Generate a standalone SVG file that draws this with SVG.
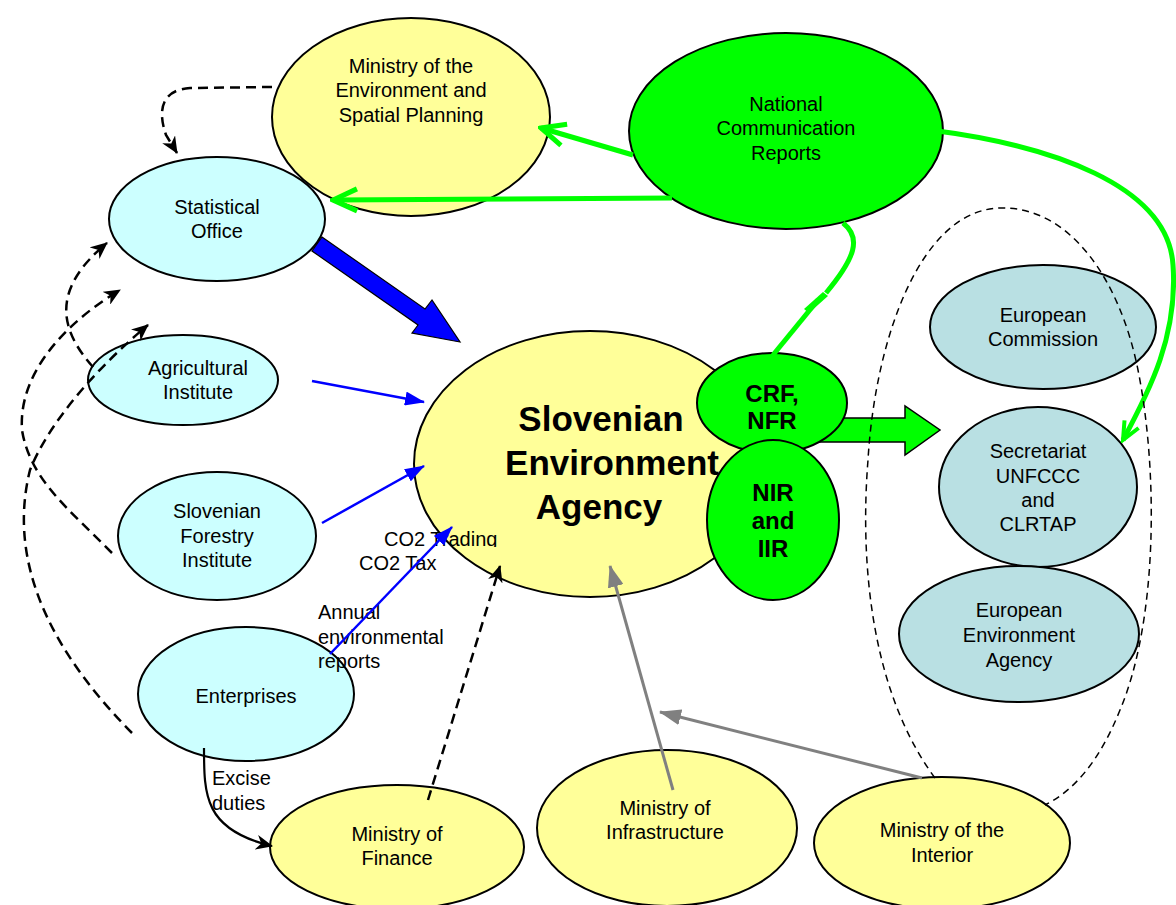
<svg xmlns="http://www.w3.org/2000/svg" width="1176" height="905" viewBox="0 0 1176 905">
<style>
.n{stroke:#000;stroke-width:2}
.y{fill:#FFFF99}
.c{fill:#CCFFFF}
.g{fill:#00FF00}
.t{fill:#B9E0E3}
text{font-family:"Liberation Sans",Arial,sans-serif;font-size:20px;fill:#000}
.m{text-anchor:middle}
.b{font-weight:bold}
.big{font-size:35px}
.mid{font-size:24px}
.gl{fill:none;stroke:#00FF00;stroke-width:5}
.bl{fill:none;stroke:#0000FF;stroke-width:2.5}
.gr{fill:none;stroke:#808080;stroke-width:3}
.d{fill:none;stroke:#000;stroke-width:2.5;stroke-dasharray:10 6}
.dl{fill:none;stroke:#000;stroke-width:1.5;stroke-dasharray:7 5}
</style>
<defs>
<marker id="ga" markerUnits="userSpaceOnUse" viewBox="0 0 30 28" markerWidth="30" markerHeight="28" refX="27" refY="14" orient="auto">
<path d="M3,3 L27,14 L3,25" fill="none" stroke="#00FF00" stroke-width="5"/>
</marker>
<marker id="gs" markerUnits="userSpaceOnUse" viewBox="0 0 24 22" markerWidth="24" markerHeight="22" refX="21" refY="11" orient="auto">
<path d="M3,3 L21,11 L3,19" fill="none" stroke="#00FF00" stroke-width="4"/>
</marker>
<marker id="ba" markerUnits="userSpaceOnUse" viewBox="0 0 20 14" markerWidth="20" markerHeight="14" refX="19" refY="7" orient="auto">
<path d="M0,0 L20,7 L0,14 z" fill="#0000FF"/>
</marker>
<marker id="gra" markerUnits="userSpaceOnUse" viewBox="0 0 22 16" markerWidth="22" markerHeight="16" refX="21" refY="8" orient="auto">
<path d="M0,0 L22,8 L0,16 z" fill="#808080"/>
</marker>
<marker id="ka" markerUnits="userSpaceOnUse" viewBox="0 0 17 15" markerWidth="17" markerHeight="15" refX="16" refY="7.5" orient="auto">
<path d="M0,0 L17,7.5 L0,15 L5,7.5 z" fill="#000"/>
</marker>
<clipPath id="clipTr"><rect x="380" y="520" width="140" height="27"/></clipPath>
</defs>
<rect width="1176" height="905" fill="#fff"/>

<g id="ministry-environment">
<ellipse class="n y" cx="411" cy="117" rx="139" ry="99"/>
<text class="m" x="411" y="73">Ministry of the</text>
<text class="m" x="411" y="97">Environment and</text>
<text class="m" x="411" y="122">Spatial Planning</text>
</g>
<g id="statistical-office">
<ellipse class="n c" cx="217" cy="219" rx="108" ry="62"/>
<text class="m" x="217" y="214">Statistical</text>
<text class="m" x="217" y="238">Office</text>
</g>
<g id="national-communication">
<ellipse class="n g" cx="786" cy="131" rx="157" ry="98"/>
<text class="m" x="786" y="111">National</text>
<text class="m" x="786" y="135">Communication</text>
<text class="m" x="786" y="160">Reports</text>
</g>
<g id="agency">
<ellipse class="n y" cx="590" cy="464" rx="176" ry="133"/>
<text class="m b big" x="601" y="431">Slovenian</text>
<text class="m b big" x="612" y="475">Environment</text>
<text class="m b big" x="599" y="519">Agency</text>
</g>
<g id="green-block-arrow">
<polygon points="815,418 905,418 905,406 940,430 905,455 905,442 815,442" fill="#00FF00" stroke="#000" stroke-width="1.5"/>
</g>
<g id="crf-nfr">
<ellipse class="n g" cx="772" cy="403" rx="75" ry="50"/>
<text class="m b mid" x="772" y="402">CRF,</text>
<text class="m b mid" x="772" y="429">NFR</text>
</g>
<g id="nir-iir">
<ellipse class="n g" cx="773" cy="520" rx="66" ry="80"/>
<text class="m b mid" x="773" y="501">NIR</text>
<text class="m b mid" x="773" y="529">and</text>
<text class="m b mid" x="773" y="557">IIR</text>
</g>
<g id="european-commission">
<ellipse class="n t" cx="1043" cy="327" rx="113" ry="62"/>
<text class="m" x="1043" y="322">European</text>
<text class="m" x="1043" y="346">Commission</text>
</g>
<g id="secretariat">
<ellipse class="n t" cx="1038" cy="487" rx="99" ry="80"/>
<text class="m" x="1038" y="458">Secretariat</text>
<text class="m" x="1038" y="483">UNFCCC</text>
<text class="m" x="1038" y="507">and</text>
<text class="m" x="1038" y="531">CLRTAP</text>
</g>
<g id="european-environment-agency">
<ellipse class="n t" cx="1019" cy="634" rx="120" ry="68"/>
<text class="m" x="1019" y="617">European</text>
<text class="m" x="1019" y="642">Environment</text>
<text class="m" x="1019" y="667">Agency</text>
</g>
<g id="agricultural-institute">
<ellipse class="n c" cx="183" cy="380" rx="95" ry="45"/>
<text class="m" x="198" y="375">Agricultural</text>
<text class="m" x="198" y="399">Institute</text>
</g>
<g id="forestry-institute">
<ellipse class="n c" cx="217" cy="536" rx="99" ry="64"/>
<text class="m" x="217" y="518">Slovenian</text>
<text class="m" x="217" y="543">Forestry</text>
<text class="m" x="217" y="567">Institute</text>
</g>
<g id="enterprises">
<ellipse class="n c" cx="246" cy="694" rx="108" ry="67"/>
<text class="m" x="246" y="703">Enterprises</text>
</g>
<g id="ministry-finance">
<ellipse class="n y" cx="397" cy="847" rx="127" ry="62"/>
<text class="m" x="397" y="841">Ministry of</text>
<text class="m" x="397" y="865">Finance</text>
</g>
<g id="ministry-infrastructure">
<ellipse class="n y" cx="667" cy="828" rx="130" ry="78"/>
<text class="m" x="665" y="815">Ministry of</text>
<text class="m" x="665" y="839">Infrastructure</text>
</g>
<g id="ministry-interior">
<ellipse class="n y" cx="942" cy="843" rx="128" ry="66"/>
<text class="m" x="942" y="837">Ministry of the</text>
<text class="m" x="942" y="862">Interior</text>
</g>

<g id="labels">
<text x="384" y="546" clip-path="url(#clipTr)">CO2 Trading</text>
<text x="359" y="570">CO2 Tax</text>
<text x="318" y="619">Annual</text>
<text x="318" y="644">environmental</text>
<text x="318" y="668">reports</text>
<text x="212" y="785">Excise</text>
<text x="212" y="810">duties</text>
</g>

<g id="connectors">
<path class="gl" d="M633,155 L541,128" marker-end="url(#ga)"/>
<path class="gl" d="M672,198 L333,200" marker-end="url(#ga)"/>
<path class="gl" d="M930,130 C1050,145 1168,185 1173,265 C1178,335 1150,390 1123,440" marker-end="url(#gs)"/>
<path class="gl" d="M843,223 C862,238 855,258 826,293"/>
<path class="gl" d="M818,300 L773,355"/>
<polygon points="804,309 809,313 828,296 823,292" fill="#00FF00"/>
<polygon points="322,237 425,309 432,300 460,342 412,333 418,325 312,251" fill="#0000FF" stroke="#000" stroke-width="1.2"/>
<path class="bl" d="M312,381 L424,402" marker-end="url(#ba)"/>
<path class="bl" d="M322,523 L424,466" marker-end="url(#ba)"/>
<path class="bl" d="M330,654 L452,527" marker-end="url(#ba)"/>
<path class="gr" d="M673,790 L610,566" marker-end="url(#gra)"/>
<path class="gr" d="M922,778 L660,712" marker-end="url(#gra)"/>
<path fill="none" stroke="#000" stroke-width="2.2" d="M204,748 C204,795 204,830 272,846" marker-end="url(#ka)"/>
<path class="d" d="M428,800 L500,566" marker-end="url(#ka)"/>
<path class="d" d="M272,87 L190,88 C160,90 158,112 166,135 L177,153" marker-end="url(#ka)"/>
<path class="d" d="M93,367 C60,330 50,290 107,243" marker-end="url(#ka)"/>
<path class="d" d="M112,553 C70,510 30,480 22,430 C18,370 70,320 120,290" marker-end="url(#ka)"/>
<path class="d" d="M132,733 C60,660 5,570 30,470 C50,420 100,365 148,325" marker-end="url(#ka)"/>
<path class="dl" d="M935,778 C870,690 860,560 868,460 C875,340 920,210 1000,208 C1070,206 1120,280 1138,370 C1158,470 1158,620 1120,710 C1100,760 1075,790 1045,805"/>
</g>
</svg>
